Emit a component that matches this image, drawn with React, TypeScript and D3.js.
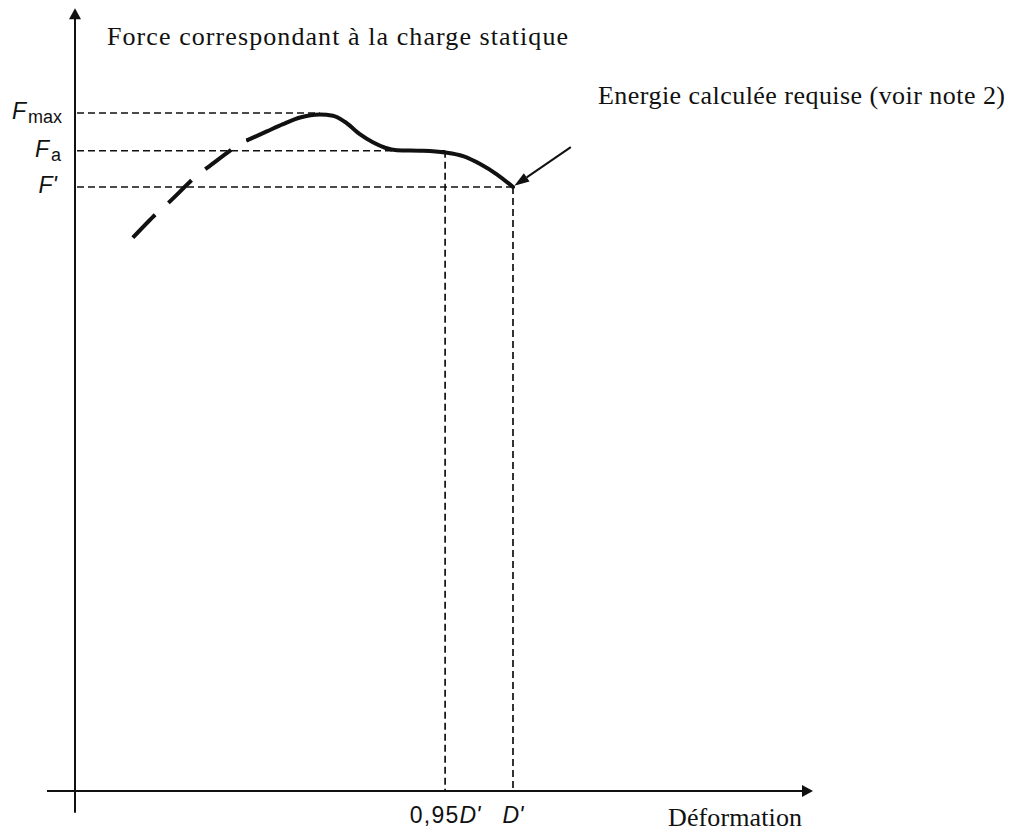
import React from "react";
import * as d3 from "d3";

// ---- Data (normalized: deformation relative to D', force relative to F') ----
const solidCurveX = [0.395, 0.438, 0.475, 0.514, 0.559, 0.589, 0.616, 0.651, 0.68, 0.708, 0.735, 0.795, 0.845, 0.886, 0.925, 0.963, 1.0];
const solidCurveY = [1.078, 1.092, 1.104, 1.115, 1.12, 1.118, 1.108, 1.087, 1.074, 1.065, 1.061, 1.06, 1.057, 1.051, 1.038, 1.021, 1.0];
const dashedCurveX = [0.132, 0.183, 0.215, 0.269, 0.304, 0.361, 0.395];
const dashedCurveY = [0.916, 0.954, 0.975, 1.013, 1.033, 1.064, 1.078];

const forceTickValues = [1.1225, 1.06, 1.0];
const forceTickSubs = ["max", "a", ""];
const forceTickPrimes = ["", "", "'"];
const forceLineEnds = [0.559, 0.845, 1.0];

const deformTickValues = [0.845, 1.0];
const deformTickPrefixes = ["0,95", ""];
const deformTickSymbol = "D'";
const deformLineTops = [1.06, 1.0];

const arrowFrom = [1.132, 1.066];
const arrowTo = [1.003, 1.002];

const yAxisTitle = "Force correspondant à la charge statique";
const xAxisTitle = "Déformation";
const annotationText = "Energie calculée requise (voir note 2)";

const xAxisStart = -0.064;
const xAxisEnd = 1.685;
const yAxisStart = -0.036;
const yAxisEnd = 1.296;

export default function App() {
  const W = 1021;
  const H = 836;
  const x = d3.scaleLinear().domain([0, 1]).range([75, 513]);
  const y = d3.scaleLinear().domain([0, 1]).range([791, 187]);

  const solidLine = d3
    .line<[number, number]>()
    .x((d) => x(d[0]))
    .y((d) => y(d[1]))
    .curve(d3.curveMonotoneX);
  const dashedLine = d3
    .line<[number, number]>()
    .x((d) => x(d[0]))
    .y((d) => y(d[1]))
    .curve(d3.curveNatural);

  const solidPts = solidCurveX.map((v, i) => [v, solidCurveY[i]] as [number, number]);
  const dashedPts = dashedCurveX.map((v, i) => [v, dashedCurveY[i]] as [number, number]);

  const ink = "#111";
  const serif = "'Liberation Serif', 'Times New Roman', serif";
  const sans = "'Liberation Sans', Arial, sans-serif";

  const xTip = [x(xAxisEnd), y(0)];
  const yTip = [x(0), y(yAxisEnd)];
  const ax0 = [x(arrowFrom[0]), y(arrowFrom[1])];
  const ax1 = [x(arrowTo[0]), y(arrowTo[1])];
  const ang = Math.atan2(ax1[1] - ax0[1], ax1[0] - ax0[0]);
  const hl = 15;
  const hw = 5;
  const base = [ax1[0] - hl * Math.cos(ang), ax1[1] - hl * Math.sin(ang)];
  const px = -Math.sin(ang) * hw;
  const py = Math.cos(ang) * hw;

  return (
    <svg
      width={W}
      height={H}
      style={{ position: "absolute", left: 0, top: 0, background: "#fff" }}
    >
      <rect x={0} y={0} width={W} height={H} fill="#fff" />
      {/* Axes */}
      <line x1={x(xAxisStart)} y1={y(0)} x2={xTip[0] - 8} y2={y(0)} stroke={ink} strokeWidth={2} />
      <path d={`M${xTip[0]},${xTip[1]} L${xTip[0] - 11},${xTip[1] - 6} L${xTip[0] - 11},${xTip[1] + 6} Z`} fill={ink} />
      <line x1={x(0)} y1={y(yAxisStart)} x2={x(0)} y2={yTip[1] + 8} stroke={ink} strokeWidth={2} />
      <path d={`M${yTip[0]},${yTip[1]} L${yTip[0] - 6},${yTip[1] + 11} L${yTip[0] + 6},${yTip[1] + 11} Z`} fill={ink} />

      {/* Horizontal dashed reference lines */}
      {forceTickValues.map((v, i) => (
        <line
          key={"h" + i}
          x1={x(0) + 2}
          y1={y(v)}
          x2={x(forceLineEnds[i])}
          y2={y(v)}
          stroke={ink}
          strokeWidth={1.7}
          strokeDasharray="7 4"
        />
      ))}
      {/* Vertical dashed reference lines */}
      {deformTickValues.map((v, i) => (
        <line
          key={"v" + i}
          x1={x(v)}
          y1={y(deformLineTops[i])}
          x2={x(v)}
          y2={y(0)}
          stroke={ink}
          strokeWidth={1.7}
          strokeDasharray="7 4"
        />
      ))}

      {/* Curve */}
      <path d={dashedLine(dashedPts) || ""} fill="none" stroke={ink} strokeWidth={4} strokeDasharray="32 18" />
      <path d={solidLine(solidPts) || ""} fill="none" stroke={ink} strokeWidth={4} strokeLinecap="round" strokeLinejoin="round" />

      {/* Annotation arrow */}
      <line x1={ax0[0]} y1={ax0[1]} x2={base[0]} y2={base[1]} stroke={ink} strokeWidth={2} />
      <path
        d={`M${ax1[0]},${ax1[1]} L${base[0] + px},${base[1] + py} L${base[0] - px},${base[1] - py} Z`}
        fill={ink}
      />

      {/* Force tick labels */}
      {forceTickValues.map((v, i) => (
        <text
          key={"fl" + i}
          x={i === 2 ? 57 : i === 1 ? 61 : 62}
          y={y(v) + 6}
          textAnchor="end"
          fontFamily={sans}
          fill={ink}
        >
          <tspan fontStyle="italic" fontSize={23}>F</tspan>
          {forceTickSubs[i] && (
            <tspan fontSize={18} dy={4} dx={2}>{forceTickSubs[i]}</tspan>
          )}
          {forceTickPrimes[i] && <tspan fontSize={23} fontStyle="italic">{forceTickPrimes[i]}</tspan>}
        </text>
      ))}

      {/* Deformation tick labels */}
      {deformTickValues.map((v, i) => (
        <text
          key={"dl" + i}
          x={x(v)}
          y={y(0) + 32}
          textAnchor="middle"
          fontFamily={sans}
          fontSize={23}
          fill={ink}
        >
          {deformTickPrefixes[i] && <tspan letterSpacing={1.2}>{deformTickPrefixes[i]}</tspan>}
          <tspan fontStyle="italic">{deformTickSymbol}</tspan>
        </text>
      ))}

      {/* Titles */}
      <text x={107} y={45} fontFamily={serif} fontSize={26} textLength={461} lengthAdjust="spacing" fill={ink}>
        {yAxisTitle}
      </text>
      <text x={598} y={104} fontFamily={serif} fontSize={26} textLength={407} lengthAdjust="spacing" fill={ink}>
        {annotationText}
      </text>
      <text x={668} y={826} fontFamily={serif} fontSize={26} textLength={134} lengthAdjust="spacing" fill={ink}>
        {xAxisTitle}
      </text>
    </svg>
  );
}
